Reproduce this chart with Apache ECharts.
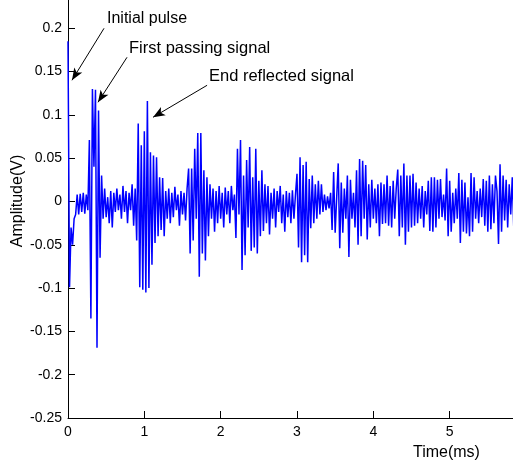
<!DOCTYPE html>
<html>
<head>
<meta charset="utf-8">
<title>Amplitude</title>
<script src="https://cdn.jsdelivr.net/npm/echarts@6/dist/echarts.min.js"></script>
<style>
  html, body { margin: 0; padding: 0; background: #fff; }
</style>
</head>
<body>
<div id="myChart" style="width: 513px;height:470px;"></div>
<script>
// 采样间隔 (ms)
let sampleStep = 0.02;
// 幅值 (V)，每隔 sampleStep 一个点
let amplitude = [
  0.185, -0.099, -0.03, -0.05, -0.02, -0.015, 0.008, -0.015, 0.009, -0.012,
  0.01, -0.014, 0.008, -0.01, 0.071, -0.135, 0.13, 0.04, 0.129, -0.169,
  0.105, -0.065, 0.03, -0.02, 0.015, -0.018, 0.005, -0.025, 0.012, -0.03,
  0.01, -0.012, 0.015, -0.01, 0.008, -0.02, 0.018, -0.012, 0.012, -0.025,
  0.01, -0.01, 0.02, -0.028, 0.015, -0.045, 0.09, -0.099, 0.065, -0.102,
  0.081, -0.105, 0.116, -0.1, 0.057, -0.073, 0.053, -0.048, 0.051, -0.04,
  0.028, -0.033, 0.027, -0.04, 0.012, -0.02, 0.015, -0.025, 0.01, -0.018,
  0.017, -0.01, 0.008, -0.028, 0.012, -0.015, 0.01, -0.022, 0.015, 0.038,
  -0.06, 0.038, -0.045, 0.061, -0.02, 0.079, -0.087, 0.079, -0.06, 0.036,
  -0.068, 0.028, -0.04, 0.02, -0.02, 0.015, -0.035, 0.012, -0.025, 0.018,
  -0.02, 0.01, -0.03, 0.016, -0.015, 0.012, -0.025, 0.018, -0.01, 0.008,
  -0.042, 0.061, -0.015, 0.071, -0.079, 0.03, -0.062, 0.048, -0.03, 0.063,
  -0.057, 0.028, -0.053, 0.061, -0.06, 0.024, -0.04, 0.036, -0.034, 0.02,
  -0.025, 0.018, -0.038, 0.01, -0.02, 0.015, -0.03, 0.012, -0.012, 0.018,
  -0.025, 0.008, -0.035, 0.012, -0.018, 0.01, -0.025, 0.013, -0.02, 0.008,
  0.032, -0.053, 0.051, -0.07, 0.042, -0.062, 0.046, -0.07, 0.026, -0.031,
  0.03, -0.025, 0.02, -0.02, 0.024, -0.015, 0.02, -0.012, 0.008, -0.01,
  0.006, -0.008, 0.01, -0.033, 0.034, -0.036, 0.005, 0.044, -0.054, 0.022,
  -0.036, 0.015, -0.02, 0.03, -0.064, 0.025, -0.02, 0.01, -0.03, 0.036,
  -0.05, 0.049, -0.04, 0.047, -0.02, 0.042, -0.044, 0.02, -0.03, 0.025,
  -0.02, 0.015, -0.025, 0.02, -0.04, 0.022, -0.026, 0.02, -0.025, 0.03,
  -0.028, 0.018, -0.03, 0.024, -0.02, 0.015, 0.037, -0.04, 0.03, -0.03,
  0.044, -0.05, 0.03, -0.035, 0.03, -0.03, 0.032, -0.028, 0.022, -0.025,
  0.015, -0.02, 0.018, -0.03, 0.012, -0.015, 0.024, -0.034, 0.028, -0.035,
  0.028, -0.03, 0.025, -0.02, 0.026, -0.018, 0.008, -0.022, 0.038, -0.04,
  0.024, -0.035, 0.01, -0.025, 0.015, -0.02, 0.033, -0.048, 0.025, -0.035,
  0.022, -0.037, 0.005, -0.04, 0.033, -0.035, 0.028, -0.02, 0.012, -0.025,
  0.015, -0.018, 0.026, -0.028, 0.024, -0.035, 0.03, -0.032, 0.02, -0.025,
  0.03, 0.012, -0.049, 0.043, -0.035, 0.03, -0.022, 0.025, -0.03, 0.02,
  -0.015, 0.028, -0.031, 0.01
];
// 标注文字
let noteTexts = ['Initial pulse', 'First passing signal', 'End reflected signal'];

let fontName = '"Liberation Sans", Arial, sans-serif';
let myChart = echarts.init(document.getElementById('myChart'));
let lineData = amplitude.map(function (v, i) { return [i * sampleStep, v]; });

myChart.setOption({
  backgroundColor: '#ffffff',
  animation: false,
  grid: {
    left: 68,
    right: -13, // 6ms 刻度在图外
    top: -15,   // 0.25 刻度在图外
    bottom: 52,
    outerBoundsMode: 'none',
    containLabel: false
  },
  xAxis: {
    type: 'value',
    min: 0,
    max: 6,
    interval: 1,
    axisLine: { onZero: false, lineStyle: { color: '#000', width: 1 } },
    axisTick: { inside: true, length: 7, lineStyle: { color: '#000' } },
    axisLabel: { color: '#000', fontSize: 14, fontFamily: fontName, margin: 7 },
    splitLine: { show: false }
  },
  yAxis: {
    type: 'value',
    min: -0.25,
    max: 0.25,
    interval: 0.05,
    axisLine: { show: true, onZero: false, lineStyle: { color: '#000', width: 1 } },
    axisTick: { show: true, inside: true, length: 7, lineStyle: { color: '#000' } },
    axisLabel: { color: '#000', fontSize: 14, fontFamily: fontName, margin: 6 },
    splitLine: { show: false }
  },
  series: [{
    type: 'line',
    data: lineData,
    showSymbol: false,
    symbol: 'none',
    lineStyle: { color: '#0000ff', width: 1.5 },
    markLine: {
      silent: true,
      symbol: ['none', 'arrow'],
      symbolSize: [7, 12],
      label: { show: false },
      lineStyle: { color: '#000', width: 1, type: 'solid' },
      data: [
        [{ coord: [0.472, 0.2] }, { coord: [0.052, 0.14] }],
        [{ coord: [0.773, 0.1665] }, { coord: [0.393, 0.1146] }],
        [{ coord: [1.822, 0.1342] }, { coord: [1.114, 0.0973] }]
      ]
    }
  }],
  graphic: [
    { type: 'text', x: 107, y: 11, style: { text: noteTexts[0], fill: '#000', font: '16px ' + fontName } },
    { type: 'text', x: 129, y: 40, style: { text: noteTexts[1], fill: '#000', font: '16.5px ' + fontName } },
    { type: 'text', x: 209, y: 68, style: { text: noteTexts[2], fill: '#000', font: '16.5px ' + fontName } },
    { type: 'text', x: 413, y: 445, style: { text: 'Time(ms)', fill: '#000', font: '16px ' + fontName } },
    // 纵轴标题
    { type: 'text', x: 18, y: 201, rotation: Math.PI / 2,
      style: { text: 'Amplitude(V)', fill: '#000', font: '16px ' + fontName, align: 'center', verticalAlign: 'middle' } }
  ]
});
</script>
</body>
</html>
